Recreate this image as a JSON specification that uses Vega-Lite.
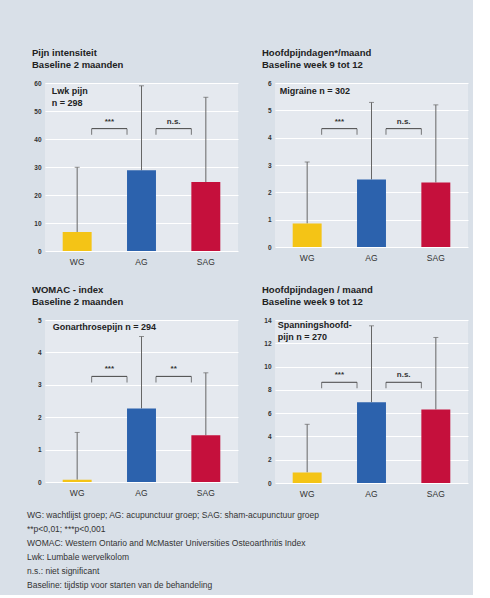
{
  "$schema": "https://vega.github.io/schema/vega-lite/v6.json",
  "background": "#d9e0e8",
  "padding": {"left": 27, "top": 47, "right": 5, "bottom": 6},
  "datasets": {
    "p1": [{"g": "WG", "mean": 6.8, "upper": 29.9}, {"g": "AG", "mean": 28.8, "upper": 59.0}, {"g": "SAG", "mean": 24.6, "upper": 54.9}],
    "p2": [{"g": "WG", "mean": 0.86, "upper": 3.11}, {"g": "AG", "mean": 2.47, "upper": 5.29}, {"g": "SAG", "mean": 2.36, "upper": 5.2}],
    "p3": [{"g": "WG", "mean": 0.07, "upper": 1.53}, {"g": "AG", "mean": 2.27, "upper": 4.49}, {"g": "SAG", "mean": 1.44, "upper": 3.37}],
    "p4": [{"g": "WG", "mean": 0.91, "upper": 5.04}, {"g": "AG", "mean": 6.94, "upper": 13.5}, {"g": "SAG", "mean": 6.32, "upper": 12.5}],
    "b1": [{"a": "WG", "b": "AG", "y": 43.7, "label": "***"}, {"a": "AG", "b": "SAG", "y": 43.7, "label": "n.s."}],
    "b2": [{"a": "WG", "b": "AG", "y": 4.33, "label": "***"}, {"a": "AG", "b": "SAG", "y": 4.33, "label": "n.s."}],
    "b3": [{"a": "WG", "b": "AG", "y": 3.26, "label": "***"}, {"a": "AG", "b": "SAG", "y": 3.26, "label": "**"}],
    "b4": [{"a": "WG", "b": "AG", "y": 8.65, "label": "***"}, {"a": "AG", "b": "SAG", "y": 8.65, "label": "n.s."}],
    "n1": [{"g": "WG", "y": 58.6, "label": "Lwk pijn\nn = 298"}],
    "n2": [{"g": "WG", "y": 5.85, "label": "Migraine n = 302"}],
    "n3": [{"g": "WG", "y": 4.9, "label": "Gonarthrosepijn n = 294"}],
    "n4": [{"g": "WG", "y": 13.95, "label": "Spanningshoofd-\npijn n = 270"}]
  },
  "columns": 2,
  "spacing": {"row": 18, "column": 24},
  "concat": [
    {
      "width": 193, "height": 168,
      "title": {"text": ["Pijn intensiteit", "Baseline 2 maanden"]},
      "layer": [
        {"data": {"name": "p1"}, "mark": {"type": "rule", "color": "#666666", "strokeWidth": 1},
         "encoding": {"x": {"field": "g", "type": "nominal", "title": null, "scale": {"domain": ["WG", "AG", "SAG"], "paddingInner": 0.55, "paddingOuter": 0.275}},
                      "y": {"field": "mean", "type": "quantitative", "title": null, "scale": {"domain": [0, 60], "nice": false}, "axis": {"values": [0, 10, 20, 30, 40, 50, 60]}},
                      "y2": {"field": "upper"}}},
        {"data": {"name": "p1"}, "mark": {"type": "tick", "color": "#666666", "orient": "horizontal", "size": 5, "thickness": 1},
         "encoding": {"x": {"field": "g", "type": "nominal", "title": null}, "y": {"field": "upper", "type": "quantitative", "title": null, "axis": {"values": [0, 10, 20, 30, 40, 50, 60]}}}},
        {"data": {"name": "p1"}, "mark": {"type": "bar"},
         "encoding": {"x": {"field": "g", "type": "nominal", "title": null}, "y": {"field": "mean", "type": "quantitative", "title": null, "axis": {"values": [0, 10, 20, 30, 40, 50, 60]}},
                      "color": {"field": "g", "type": "nominal", "legend": null, "scale": {"domain": ["WG", "AG", "SAG"], "range": ["#f4c416", "#2c62ad", "#c5103c"]}}}},
        {"data": {"name": "b1"}, "mark": {"type": "rule", "color": "#444444", "strokeWidth": 1},
         "encoding": {"x": {"field": "a", "type": "nominal", "title": null, "bandPosition": 1}, "x2": {"field": "b", "bandPosition": 0}, "y": {"field": "y", "type": "quantitative", "title": null, "axis": {"values": [0, 10, 20, 30, 40, 50, 60]}}}},
        {"data": {"name": "b1"}, "mark": {"type": "tick", "color": "#444444", "orient": "vertical", "size": 6, "thickness": 1, "yOffset": 3},
         "encoding": {"x": {"field": "a", "type": "nominal", "title": null, "bandPosition": 1}, "y": {"field": "y", "type": "quantitative", "title": null, "axis": {"values": [0, 10, 20, 30, 40, 50, 60]}}}},
        {"data": {"name": "b1"}, "mark": {"type": "tick", "color": "#444444", "orient": "vertical", "size": 6, "thickness": 1, "yOffset": 3},
         "encoding": {"x": {"field": "b", "type": "nominal", "title": null, "bandPosition": 0}, "y": {"field": "y", "type": "quantitative", "title": null, "axis": {"values": [0, 10, 20, 30, 40, 50, 60]}}}},
        {"data": {"name": "b1"}, "mark": {"type": "text", "fontSize": 8, "fontWeight": "bold", "color": "#333333", "baseline": "bottom", "dy": -3, "dx": 17.7},
         "encoding": {"x": {"field": "a", "type": "nominal", "title": null, "bandPosition": 1}, "y": {"field": "y", "type": "quantitative", "title": null, "axis": {"values": [0, 10, 20, 30, 40, 50, 60]}}, "text": {"field": "label"}}},
        {"data": {"name": "n1"}, "mark": {"type": "text", "fontSize": 9, "fontWeight": "bold", "color": "#222222", "align": "left", "baseline": "top", "lineBreak": "\n", "lineHeight": 12, "dx": -11},
         "encoding": {"x": {"field": "g", "type": "nominal", "title": null, "bandPosition": 0}, "y": {"field": "y", "type": "quantitative", "title": null, "axis": {"values": [0, 10, 20, 30, 40, 50, 60]}}, "text": {"field": "label"}}}
      ]
    },
    {
      "width": 193, "height": 164,
      "title": {"text": ["Hoofdpijndagen*/maand", "Baseline week 9 tot 12"]},
      "layer": [
        {"data": {"name": "p2"}, "mark": {"type": "rule", "color": "#666666", "strokeWidth": 1},
         "encoding": {"x": {"field": "g", "type": "nominal", "title": null, "scale": {"domain": ["WG", "AG", "SAG"], "paddingInner": 0.55, "paddingOuter": 0.275}},
                      "y": {"field": "mean", "type": "quantitative", "title": null, "scale": {"domain": [0, 6], "nice": false}, "axis": {"values": [0, 1, 2, 3, 4, 5, 6]}},
                      "y2": {"field": "upper"}}},
        {"data": {"name": "p2"}, "mark": {"type": "tick", "color": "#666666", "orient": "horizontal", "size": 5, "thickness": 1},
         "encoding": {"x": {"field": "g", "type": "nominal", "title": null}, "y": {"field": "upper", "type": "quantitative", "title": null, "axis": {"values": [0, 1, 2, 3, 4, 5, 6]}}}},
        {"data": {"name": "p2"}, "mark": {"type": "bar"},
         "encoding": {"x": {"field": "g", "type": "nominal", "title": null}, "y": {"field": "mean", "type": "quantitative", "title": null, "axis": {"values": [0, 1, 2, 3, 4, 5, 6]}},
                      "color": {"field": "g", "type": "nominal", "legend": null, "scale": {"domain": ["WG", "AG", "SAG"], "range": ["#f4c416", "#2c62ad", "#c5103c"]}}}},
        {"data": {"name": "b2"}, "mark": {"type": "rule", "color": "#444444", "strokeWidth": 1},
         "encoding": {"x": {"field": "a", "type": "nominal", "title": null, "bandPosition": 1}, "x2": {"field": "b", "bandPosition": 0}, "y": {"field": "y", "type": "quantitative", "title": null, "axis": {"values": [0, 1, 2, 3, 4, 5, 6]}}}},
        {"data": {"name": "b2"}, "mark": {"type": "tick", "color": "#444444", "orient": "vertical", "size": 6, "thickness": 1, "yOffset": 3},
         "encoding": {"x": {"field": "a", "type": "nominal", "title": null, "bandPosition": 1}, "y": {"field": "y", "type": "quantitative", "title": null, "axis": {"values": [0, 1, 2, 3, 4, 5, 6]}}}},
        {"data": {"name": "b2"}, "mark": {"type": "tick", "color": "#444444", "orient": "vertical", "size": 6, "thickness": 1, "yOffset": 3},
         "encoding": {"x": {"field": "b", "type": "nominal", "title": null, "bandPosition": 0}, "y": {"field": "y", "type": "quantitative", "title": null, "axis": {"values": [0, 1, 2, 3, 4, 5, 6]}}}},
        {"data": {"name": "b2"}, "mark": {"type": "text", "fontSize": 8, "fontWeight": "bold", "color": "#333333", "baseline": "bottom", "dy": -3, "dx": 17.7},
         "encoding": {"x": {"field": "a", "type": "nominal", "title": null, "bandPosition": 1}, "y": {"field": "y", "type": "quantitative", "title": null, "axis": {"values": [0, 1, 2, 3, 4, 5, 6]}}, "text": {"field": "label"}}},
        {"data": {"name": "n2"}, "mark": {"type": "text", "fontSize": 9, "fontWeight": "bold", "color": "#222222", "align": "left", "baseline": "top", "lineBreak": "\n", "lineHeight": 12, "dx": -13},
         "encoding": {"x": {"field": "g", "type": "nominal", "title": null, "bandPosition": 0}, "y": {"field": "y", "type": "quantitative", "title": null, "axis": {"values": [0, 1, 2, 3, 4, 5, 6]}}, "text": {"field": "label"}}}
      ]
    },
    {
      "width": 193, "height": 162,
      "title": {"text": ["WOMAC - index", "Baseline 2 maanden"]},
      "layer": [
        {"data": {"name": "p3"}, "mark": {"type": "rule", "color": "#666666", "strokeWidth": 1},
         "encoding": {"x": {"field": "g", "type": "nominal", "title": null, "scale": {"domain": ["WG", "AG", "SAG"], "paddingInner": 0.55, "paddingOuter": 0.275}},
                      "y": {"field": "mean", "type": "quantitative", "title": null, "scale": {"domain": [0, 5], "nice": false}, "axis": {"values": [0, 1, 2, 3, 4, 5]}},
                      "y2": {"field": "upper"}}},
        {"data": {"name": "p3"}, "mark": {"type": "tick", "color": "#666666", "orient": "horizontal", "size": 5, "thickness": 1},
         "encoding": {"x": {"field": "g", "type": "nominal", "title": null}, "y": {"field": "upper", "type": "quantitative", "title": null, "axis": {"values": [0, 1, 2, 3, 4, 5]}}}},
        {"data": {"name": "p3"}, "mark": {"type": "bar"},
         "encoding": {"x": {"field": "g", "type": "nominal", "title": null}, "y": {"field": "mean", "type": "quantitative", "title": null, "axis": {"values": [0, 1, 2, 3, 4, 5]}},
                      "color": {"field": "g", "type": "nominal", "legend": null, "scale": {"domain": ["WG", "AG", "SAG"], "range": ["#f4c416", "#2c62ad", "#c5103c"]}}}},
        {"data": {"name": "b3"}, "mark": {"type": "rule", "color": "#444444", "strokeWidth": 1},
         "encoding": {"x": {"field": "a", "type": "nominal", "title": null, "bandPosition": 1}, "x2": {"field": "b", "bandPosition": 0}, "y": {"field": "y", "type": "quantitative", "title": null, "axis": {"values": [0, 1, 2, 3, 4, 5]}}}},
        {"data": {"name": "b3"}, "mark": {"type": "tick", "color": "#444444", "orient": "vertical", "size": 6, "thickness": 1, "yOffset": 3},
         "encoding": {"x": {"field": "a", "type": "nominal", "title": null, "bandPosition": 1}, "y": {"field": "y", "type": "quantitative", "title": null, "axis": {"values": [0, 1, 2, 3, 4, 5]}}}},
        {"data": {"name": "b3"}, "mark": {"type": "tick", "color": "#444444", "orient": "vertical", "size": 6, "thickness": 1, "yOffset": 3},
         "encoding": {"x": {"field": "b", "type": "nominal", "title": null, "bandPosition": 0}, "y": {"field": "y", "type": "quantitative", "title": null, "axis": {"values": [0, 1, 2, 3, 4, 5]}}}},
        {"data": {"name": "b3"}, "mark": {"type": "text", "fontSize": 8, "fontWeight": "bold", "color": "#333333", "baseline": "bottom", "dy": -3, "dx": 17.7},
         "encoding": {"x": {"field": "a", "type": "nominal", "title": null, "bandPosition": 1}, "y": {"field": "y", "type": "quantitative", "title": null, "axis": {"values": [0, 1, 2, 3, 4, 5]}}, "text": {"field": "label"}}},
        {"data": {"name": "n3"}, "mark": {"type": "text", "fontSize": 9, "fontWeight": "bold", "color": "#222222", "align": "left", "baseline": "top", "lineBreak": "\n", "lineHeight": 12, "dx": -10},
         "encoding": {"x": {"field": "g", "type": "nominal", "title": null, "bandPosition": 0}, "y": {"field": "y", "type": "quantitative", "title": null, "axis": {"values": [0, 1, 2, 3, 4, 5]}}, "text": {"field": "label"}}}
      ]
    },
    {
      "width": 193, "height": 163,
      "title": {"text": ["Hoofdpijndagen / maand", "Baseline week 9 tot 12"]},
      "layer": [
        {"data": {"name": "p4"}, "mark": {"type": "rule", "color": "#666666", "strokeWidth": 1},
         "encoding": {"x": {"field": "g", "type": "nominal", "title": null, "scale": {"domain": ["WG", "AG", "SAG"], "paddingInner": 0.55, "paddingOuter": 0.275}},
                      "y": {"field": "mean", "type": "quantitative", "title": null, "scale": {"domain": [0, 14], "nice": false}, "axis": {"values": [0, 2, 4, 6, 8, 10, 12, 14]}},
                      "y2": {"field": "upper"}}},
        {"data": {"name": "p4"}, "mark": {"type": "tick", "color": "#666666", "orient": "horizontal", "size": 5, "thickness": 1},
         "encoding": {"x": {"field": "g", "type": "nominal", "title": null}, "y": {"field": "upper", "type": "quantitative", "title": null, "axis": {"values": [0, 2, 4, 6, 8, 10, 12, 14]}}}},
        {"data": {"name": "p4"}, "mark": {"type": "bar"},
         "encoding": {"x": {"field": "g", "type": "nominal", "title": null}, "y": {"field": "mean", "type": "quantitative", "title": null, "axis": {"values": [0, 2, 4, 6, 8, 10, 12, 14]}},
                      "color": {"field": "g", "type": "nominal", "legend": null, "scale": {"domain": ["WG", "AG", "SAG"], "range": ["#f4c416", "#2c62ad", "#c5103c"]}}}},
        {"data": {"name": "b4"}, "mark": {"type": "rule", "color": "#444444", "strokeWidth": 1},
         "encoding": {"x": {"field": "a", "type": "nominal", "title": null, "bandPosition": 1}, "x2": {"field": "b", "bandPosition": 0}, "y": {"field": "y", "type": "quantitative", "title": null, "axis": {"values": [0, 2, 4, 6, 8, 10, 12, 14]}}}},
        {"data": {"name": "b4"}, "mark": {"type": "tick", "color": "#444444", "orient": "vertical", "size": 6, "thickness": 1, "yOffset": 3},
         "encoding": {"x": {"field": "a", "type": "nominal", "title": null, "bandPosition": 1}, "y": {"field": "y", "type": "quantitative", "title": null, "axis": {"values": [0, 2, 4, 6, 8, 10, 12, 14]}}}},
        {"data": {"name": "b4"}, "mark": {"type": "tick", "color": "#444444", "orient": "vertical", "size": 6, "thickness": 1, "yOffset": 3},
         "encoding": {"x": {"field": "b", "type": "nominal", "title": null, "bandPosition": 0}, "y": {"field": "y", "type": "quantitative", "title": null, "axis": {"values": [0, 2, 4, 6, 8, 10, 12, 14]}}}},
        {"data": {"name": "b4"}, "mark": {"type": "text", "fontSize": 8, "fontWeight": "bold", "color": "#333333", "baseline": "bottom", "dy": -3, "dx": 17.7},
         "encoding": {"x": {"field": "a", "type": "nominal", "title": null, "bandPosition": 1}, "y": {"field": "y", "type": "quantitative", "title": null, "axis": {"values": [0, 2, 4, 6, 8, 10, 12, 14]}}, "text": {"field": "label"}}},
        {"data": {"name": "n4"}, "mark": {"type": "text", "fontSize": 9, "fontWeight": "bold", "color": "#222222", "align": "left", "baseline": "top", "lineBreak": "\n", "lineHeight": 12, "dx": -15},
         "encoding": {"x": {"field": "g", "type": "nominal", "title": null, "bandPosition": 0}, "y": {"field": "y", "type": "quantitative", "title": null, "axis": {"values": [0, 2, 4, 6, 8, 10, 12, 14]}}, "text": {"field": "label"}}}
      ]
    }
  ],
  "title": {
    "text": ["WG: wachtlijst groep; AG: acupunctuur groep; SAG: sham-acupunctuur groep", "**p<0,01; ***p<0,001", "WOMAC: Western Ontario and McMaster Universities Osteoarthritis Index", "Lwk: Lumbale wervelkolom", "n.s.: niet significant", "Baseline: tijdstip voor starten van de behandeling"],
    "orient": "bottom", "anchor": "start", "frame": "bounds", "fontSize": 8.5, "fontWeight": "normal", "lineHeight": 14, "color": "#333333", "dx": -5, "offset": 13
  },
  "config": {
    "font": "Liberation Sans",
    "view": {"fill": "#e5e9ef", "stroke": null},
    "axis": {"domain": false, "ticks": false, "labelFont": "Liberation Sans", "labelColor": "#333333", "gridColor": "#ffffff", "gridWidth": 1.2},
    "axisX": {"grid": false, "labelAngle": 0, "labelPadding": 6, "labelFontSize": 8.5},
    "axisY": {"labelPadding": 4, "labelFontSize": 6.5, "labelFontWeight": "bold", "labelOverlap": false},
    "title": {"anchor": "start", "frame": "group", "fontSize": 9.5, "fontWeight": "bold", "color": "#222222", "lineHeight": 12, "dx": -13, "offset": 11}
  }
}
